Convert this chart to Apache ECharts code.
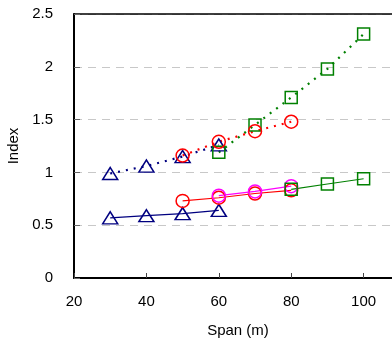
<!DOCTYPE html>
<html>
<head>
<meta charset="utf-8">
<script src="https://cdn.jsdelivr.net/npm/echarts@6/dist/echarts.min.js"></script>
<style>
html, body { margin: 0; padding: 0; background: #fff; }
#chart { width: 392px; height: 340px; }
</style>
</head>
<body>
<div id="chart"></div>
<script>
// span values (m) and index readings, one pair of arrays per curve
var triDotX = [30, 40, 50, 60];
var triDotY = [0.99, 1.06, 1.15, 1.26];
var cirDotX = [50, 60, 70, 80];
var cirDotY = [1.16, 1.29, 1.39, 1.48];
var sqDotX = [60, 70, 80, 90, 100];
var sqDotY = [1.19, 1.45, 1.71, 1.98, 2.31];

var triX = [30, 40, 50, 60];
var triY = [0.57, 0.59, 0.61, 0.64];
var cirX = [50, 60, 70, 80];
var cirY = [0.73, 0.76, 0.80, 0.83];
var magX = [60, 70, 80];
var magY = [0.78, 0.82, 0.87];
var sqX = [80, 90, 100];
var sqY = [0.84, 0.89, 0.94];

var xTicks = [20, 40, 60, 80, 100];

function pairs(xs, ys) {
	var out = [];
	for (var i = 0; i < xs.length; i++) {
		out.push([xs[i], ys[i]]);
	}
	return out;
}

function curve(xs, ys, color, symbol, size, dotted) {
	return {
		type: 'line',
		data: pairs(xs, ys),
		symbol: symbol,
		symbolSize: size,
		showAllSymbol: true,
		animation: false,
		lineStyle: {
			color: color,
			width: dotted ? 2.2 : 1.2,
			type: dotted ? [2, 6] : 'solid'
		},
		itemStyle: {
			color: 'transparent',
			borderColor: color,
			borderWidth: 1.5
		}
	};
}

var mychart = echarts.init(document.getElementById('chart'));
var font = 'Liberation Sans, Arial, sans-serif';

var option = {
	backgroundColor: '#fff',
	grid: {
		left: 74,
		right: -10,
		top: 14,
		bottom: 62,
		outerBoundsMode: 'none'
	},
	xAxis: [{
		type: 'value',
		min: 20,
		max: 110.6,
		name: 'Span (m)',
		nameLocation: 'middle',
		nameGap: 45,
		nameTextStyle: { color: '#000', fontSize: 15, fontFamily: font },
		axisLine: { lineStyle: { color: '#000', width: 2 } },
		axisTick: {
			inside: true,
			length: 5,
			customValues: xTicks,
			lineStyle: { color: '#444' }
		},
		axisLabel: {
			customValues: xTicks,
			margin: 16,
			color: '#000',
			fontSize: 15,
			fontFamily: font
		},
		splitLine: { show: false }
	}, {
		type: 'value',
		position: 'top',
		min: 20,
		max: 110.6,
		axisLine: { show: true, lineStyle: { color: '#000', width: 1.5 } },
		axisTick: { show: false },
		axisLabel: { show: false },
		splitLine: { show: false }
	}],
	yAxis: {
		type: 'value',
		min: 0,
		max: 2.5,
		interval: 0.5,
		name: 'Index',
		nameLocation: 'middle',
		nameGap: 40,
		nameTextStyle: { color: '#000', fontSize: 15, fontFamily: font },
		axisLine: { show: true, lineStyle: { color: '#000', width: 2 } },
		axisTick: { show: true, inside: true, length: 6, lineStyle: { color: '#666' } },
		axisLabel: {
			margin: 21,
			color: '#000',
			fontSize: 15,
			fontFamily: font
		},
		splitLine: {
			show: true,
			lineStyle: { color: '#c8c8c8', type: [8, 6], width: 1 }
		}
	},
	series: [
		curve(triX, triY, '#000080', 'triangle', [15, 12], false),
		curve(cirX, cirY, '#ff0000', 'circle', 13, false),
		curve(magX, magY, '#ff00ff', 'circle', 13, false),
		curve(sqX, sqY, '#008000', 'rect', 12, false),
		curve(triDotX, triDotY, '#000080', 'triangle', [15, 12], true),
		curve(sqDotX, sqDotY, '#008000', 'rect', 12, true),
		curve(cirDotX, cirDotY, '#ff0000', 'circle', 13, true)
	]
};

mychart.setOption(option);
</script>
</body>
</html>
